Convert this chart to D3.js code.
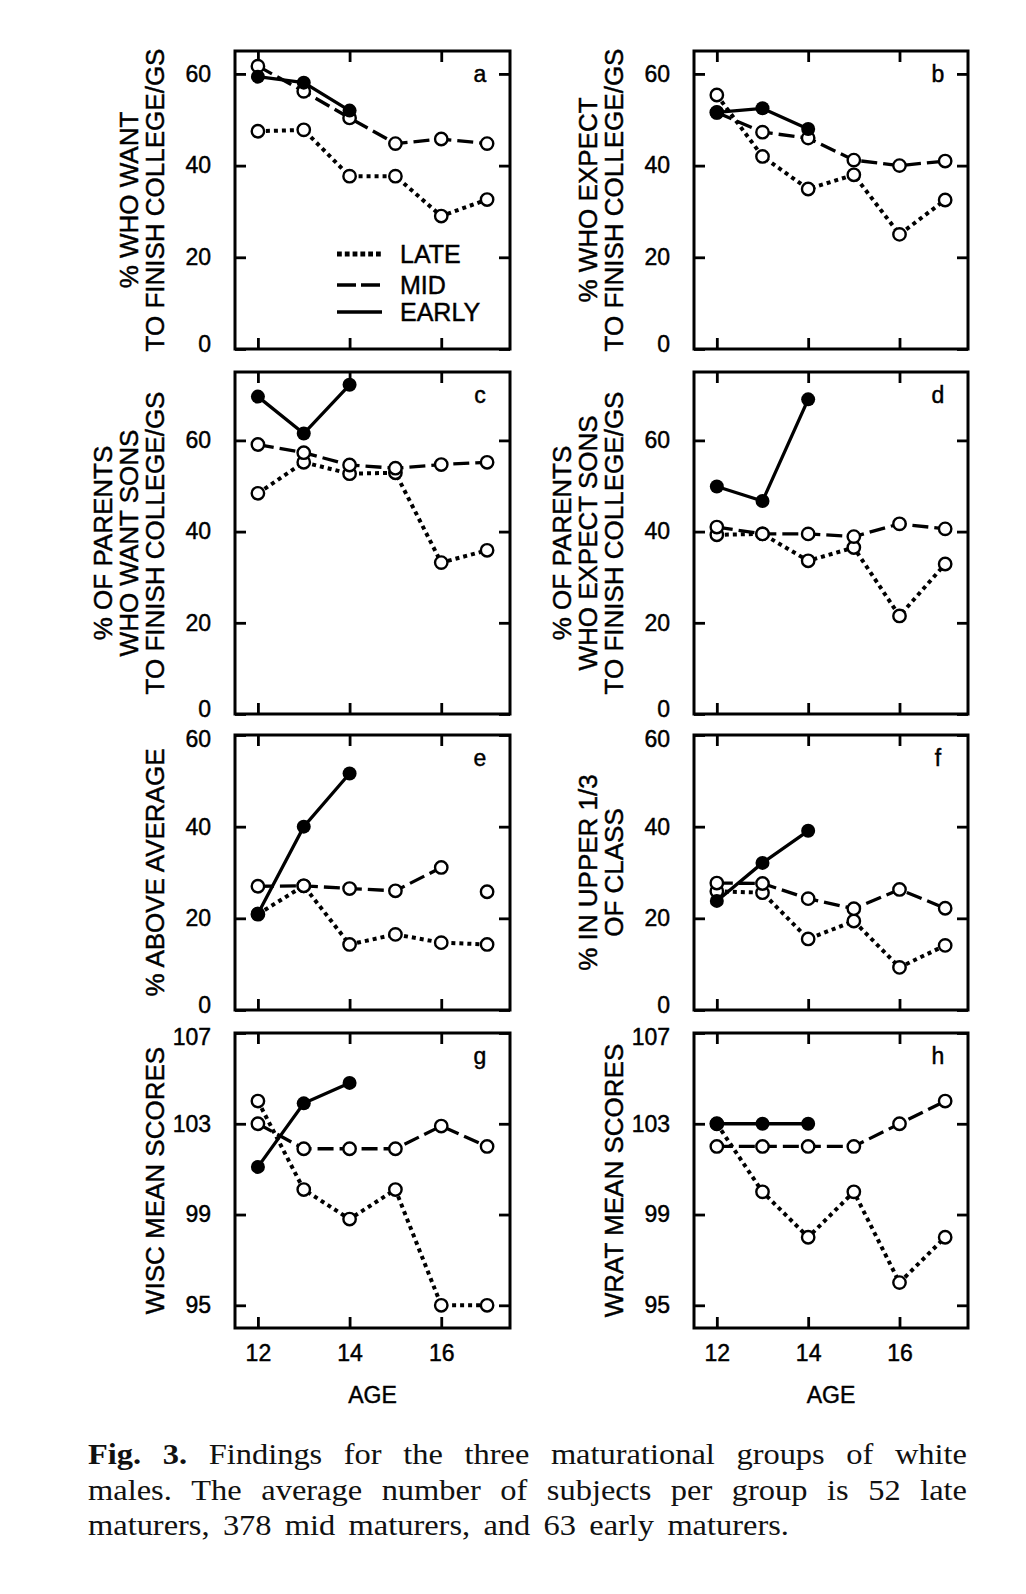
<!DOCTYPE html>
<html>
<head>
<meta charset="utf-8">
<script src="https://cdn.jsdelivr.net/npm/d3@7"></script>
<style>
  html, body { margin: 0; padding: 0; background: #fff; }
  svg { display: block; }
</style>
</head>
<body>
<svg id="chart" width="1026" height="1594"></svg>
<script>
// ---------------- DATA ----------------
const ages = [12, 13, 14, 15, 16, 17];
const earlyAges = [12, 13, 14];
const xTickValues = [12, 14, 16];
const xTickLabels = ["12", "14", "16"];
const seriesNames = ["LATE", "MID", "EARLY"];
const panelLetters = ["a", "b", "c", "d", "e", "f", "g", "h"];

const lateA  = [47.5, 47.8, 37.7, 37.7, 29.0, 32.6];
const midA   = [61.7, 56.2, 50.4, 44.8, 45.8, 44.8];
const earlyA = [59.4, 58.1, 52.0];

const lateB  = [55.4, 42.0, 34.9, 38.0, 25.0, 32.5];
const midB   = [51.6, 47.3, 46.0, 41.2, 40.0, 41.0];
const earlyB = [51.6, 52.5, 48.0];

const lateC  = [48.4, 55.2, 52.7, 52.9, 33.2, 35.9];
const midC   = [59.1, 57.3, 54.6, 53.9, 54.7, 55.2];
const earlyC = [69.6, 61.5, 72.2];

const lateD  = [39.3, 39.5, 33.6, 36.5, 21.5, 32.9];
const midD   = [41.0, 39.5, 39.5, 38.9, 41.7, 40.6];
const earlyD = [49.9, 46.7, 69.0];

const lateE  = [20.9, 27.1, 14.3, 16.5, 14.7, 14.3];
const midE   = [27.0, 27.1, 26.5, 26.0, 31.1, 25.8];
const earlyE = [21.0, 40.0, 51.6];

const lateF  = [25.9, 25.6, 15.5, 19.4, 9.3, 14.1];
const midF   = [27.7, 27.6, 24.3, 22.1, 26.3, 22.2];
const earlyF = [23.8, 32.1, 39.1];

const lateG  = [104.0, 100.1, 98.8, 100.1, 95.0, 95.0];
const midG   = [103.0, 101.9, 101.9, 101.9, 102.9, 102.0];
const earlyG = [101.1, 103.9, 104.8];

const lateH  = [103.0, 100.0, 98.0, 100.0, 96.0, 98.0];
const midH   = [102.0, 102.0, 102.0, 102.0, 103.0, 104.0];
const earlyH = [103.0, 103.0, 103.0];

// segment breaks: line not drawn between these two ages
const lineBreaks = [{ panel: "e", series: "mid", from: 16, to: 17 }];

const yTicksPct = [0, 20, 40, 60];
const yTicksScore = [95, 99, 103, 107];
const yDomain65 = [0, 65];
const yDomain75 = [0, 75];
const yDomain60 = [0, 60];
const yDomainScore = [94, 107];

const yLabelA = ["% WHO WANT", "TO FINISH COLLEGE/GS"];
const yLabelB = ["% WHO EXPECT", "TO FINISH COLLEGE/GS"];
const yLabelC = ["% OF PARENTS", "WHO WANT SONS", "TO FINISH COLLEGE/GS"];
const yLabelD = ["% OF PARENTS", "WHO EXPECT SONS", "TO FINISH COLLEGE/GS"];
const yLabelE = ["% ABOVE AVERAGE"];
const yLabelF = ["% IN UPPER 1/3", "OF CLASS"];
const yLabelG = ["WISC MEAN SCORES"];
const yLabelH = ["WRAT MEAN SCORES"];
const xAxisTitle = "AGE";

const captionLine1 = [["Fig.", true], ["3.", true], ["Findings"], ["for"], ["the"], ["three"], ["maturational"], ["groups"], ["of"], ["white"]];
const captionLine2 = [["males."], ["The"], ["average"], ["number"], ["of"], ["subjects"], ["per"], ["group"], ["is"], ["52"], ["late"]];
const captionLine3 = [["maturers,"], ["378"], ["mid"], ["maturers,"], ["and"], ["63"], ["early"], ["maturers."]];

// ---------------- LAYOUT ----------------
const colX = [[235, 510], [694, 968]];
const rowY = [[51, 349], [372, 714], [735, 1010], [1033, 1328]];
const xDomain = [11.5, 17.5];
const sansFont = "'Liberation Sans', Arial, Helvetica, sans-serif";
const serifFont = "'Liberation Serif', 'Times New Roman', serif";

const panels = [
  { id: "a", late: lateA, mid: midA, early: earlyA, yDomain: yDomain65, yTicks: yTicksPct, label: yLabelA },
  { id: "b", late: lateB, mid: midB, early: earlyB, yDomain: yDomain65, yTicks: yTicksPct, label: yLabelB },
  { id: "c", late: lateC, mid: midC, early: earlyC, yDomain: yDomain75, yTicks: yTicksPct, label: yLabelC },
  { id: "d", late: lateD, mid: midD, early: earlyD, yDomain: yDomain75, yTicks: yTicksPct, label: yLabelD },
  { id: "e", late: lateE, mid: midE, early: earlyE, yDomain: yDomain60, yTicks: yTicksPct, label: yLabelE },
  { id: "f", late: lateF, mid: midF, early: earlyF, yDomain: yDomain60, yTicks: yTicksPct, label: yLabelF },
  { id: "g", late: lateG, mid: midG, early: earlyG, yDomain: yDomainScore, yTicks: yTicksScore, label: yLabelG },
  { id: "h", late: lateH, mid: midH, early: earlyH, yDomain: yDomainScore, yTicks: yTicksScore, label: yLabelH }
];

const styles = {
  late:  { width: 4.0, dash: "4,4" },
  mid:   { width: 3.3, dash: "16,6" },
  early: { width: 3.3, dash: null }
};
const textStroke = 0.45;

const svg = d3.select("#chart");
svg.append("rect").attr("width", 1026).attr("height", 1594).attr("fill", "#fff");

function segments(pts, breaks) {
  const segs = [];
  let cur = [];
  pts.forEach((p, i) => {
    if (i > 0 && breaks.some(b => b.from === pts[i - 1].age && b.to === p.age)) {
      segs.push(cur); cur = [];
    }
    cur.push(p);
  });
  segs.push(cur);
  return segs;
}

function boldish(sel) {
  return sel.attr("stroke", "#000").attr("stroke-width", textStroke);
}

panels.forEach((p, idx) => {
  const col = idx % 2, row = Math.floor(idx / 2);
  const [x0, x1] = colX[col];
  const [y0, y1] = rowY[row];
  const w = x1 - x0, h = y1 - y0;
  const g = svg.append("g").attr("transform", `translate(${x0},${y0})`);
  const x = d3.scaleLinear().domain(xDomain).range([0, w]);
  const y = d3.scaleLinear().domain(p.yDomain).range([h, 0]);
  const yMin = p.yTicks[0], yMax = p.yTicks[p.yTicks.length - 1];

  const styleAxis = sel => {
    sel.select(".domain").remove();
    sel.attr("font-family", sansFont).attr("font-size", 23);
    sel.selectAll(".tick line").attr("stroke", "#000").attr("stroke-width", 2.8);
    sel.selectAll(".tick text").attr("fill", "#000").call(boldish);
  };

  const yAxisG = g.append("g").call(d3.axisLeft(y).tickValues(p.yTicks).tickSize(-11).tickPadding(24)).call(styleAxis);
  // nudge edge labels inward like the reference
  yAxisG.selectAll(".tick text").attr("y", d => {
    if (d === yMin && y(d) >= h - 1) return -5;
    if (d === yMax && y(d) <= 1) return 4;
    return 0;
  });
  g.append("g").attr("transform", `translate(${w},0)`)
    .call(d3.axisRight(y).tickValues(p.yTicks).tickSize(-11).tickFormat(() => "")).call(styleAxis);
  g.append("g").call(d3.axisTop(x).tickValues(xTickValues).tickSize(-11).tickFormat(() => "")).call(styleAxis);
  const showX = row === rowY.length - 1;
  g.append("g").attr("transform", `translate(0,${h})`)
    .call(d3.axisBottom(x).tickValues(xTickValues).tickSize(-11).tickPadding(17)
      .tickFormat((d, i) => showX ? xTickLabels[i] : "")).call(styleAxis);

  // frame
  g.append("rect").attr("x", 0).attr("y", 0).attr("width", w).attr("height", h)
    .attr("fill", "none").attr("stroke", "#000").attr("stroke-width", 3);

  const line = d3.line().x(d => x(d.age)).y(d => y(d.v));
  const series = [
    { key: "late", pts: p.late.map((v, i) => ({ age: ages[i], v })) },
    { key: "mid", pts: p.mid.map((v, i) => ({ age: ages[i], v })) },
    { key: "early", pts: p.early.map((v, i) => ({ age: earlyAges[i], v })) }
  ];
  series.forEach(s => {
    const br = lineBreaks.filter(b => b.panel === p.id && b.series === s.key);
    segments(s.pts, br).forEach(seg => {
      if (seg.length < 2) return;
      g.append("path").attr("d", line(seg)).attr("fill", "none")
        .attr("stroke", "#000").attr("stroke-width", styles[s.key].width)
        .attr("stroke-dasharray", styles[s.key].dash);
    });
  });
  // open circles (late, mid), then filled (early)
  series.slice(0, 2).forEach(s => {
    g.selectAll(null).data(s.pts).enter().append("circle")
      .attr("cx", d => x(d.age)).attr("cy", d => y(d.v)).attr("r", 6.2)
      .attr("fill", "#fff").attr("stroke", "#000").attr("stroke-width", 2.4);
  });
  g.selectAll(null).data(series[2].pts).enter().append("circle")
    .attr("cx", d => x(d.age)).attr("cy", d => y(d.v)).attr("r", 7).attr("fill", "#000");

  // panel letter
  g.append("text").attr("x", w - 30).attr("y", 31).attr("text-anchor", "middle")
    .attr("font-family", sansFont).attr("font-size", 23).text(panelLetters[idx]).call(boldish);

  // y label
  const n = p.label.length;
  p.label.forEach((t, i) => {
    const cx = -80 - (n - 1 - i) * 26;
    g.append("text").attr("transform", `translate(${cx},${h / 2}) rotate(-90)`)
      .attr("text-anchor", "middle").attr("dominant-baseline", "central")
      .attr("font-family", sansFont).attr("font-size", 26).text(t).call(boldish);
  });

  // x axis title
  if (showX) {
    g.append("text").attr("x", w / 2).attr("y", h + 67).attr("text-anchor", "middle")
      .attr("dominant-baseline", "central")
      .attr("font-family", sansFont).attr("font-size", 23).text(xAxisTitle).call(boldish);
  }

  // legend in panel a
  if (p.id === "a") {
    const keys = ["late", "mid", "early"];
    const ly = [203, 234, 261];
    keys.forEach((k, i) => {
      g.append("line").attr("x1", 102).attr("x2", 147).attr("y1", ly[i]).attr("y2", ly[i])
        .attr("stroke", "#000").attr("stroke-width", k === "late" ? 4.8 : 3.4)
        .attr("stroke-dasharray", k === "late" ? "4.8,3" : (k === "mid" ? "19,5" : null));
      g.append("text").attr("x", 165).attr("y", ly[i]).attr("dominant-baseline", "central")
        .attr("font-family", sansFont).attr("font-size", 25).text(seriesNames[i]).call(boldish);
    });
  }
});

// ---------------- CAPTION ----------------
const capLeft = 88;
const capScaleX = 1.1;
const capLines = [
  { words: captionLine1, y: 1464, right: 967 },
  { words: captionLine2, y: 1500, right: 967 },
  { words: captionLine3, y: 1535, right: 789 }
];
const capG = svg.append("g").attr("transform", `translate(${capLeft},0) scale(${capScaleX},1)`);
capLines.forEach(L => {
  const nodes = L.words.map(([t, bold]) =>
    capG.append("text").attr("y", L.y).attr("font-family", serifFont).attr("font-size", 29.5)
      .attr("font-weight", bold ? "bold" : "normal").attr("fill", "#111").text(t));
  const widths = nodes.map(nd => nd.node().getComputedTextLength());
  const total = d3.sum(widths);
  const span = (L.right - capLeft) / capScaleX;
  const gap = (span - total) / (nodes.length - 1);
  let cx = 0;
  nodes.forEach((nd, i) => { nd.attr("x", cx); cx += widths[i] + gap; });
});
</script>
</body>
</html>
